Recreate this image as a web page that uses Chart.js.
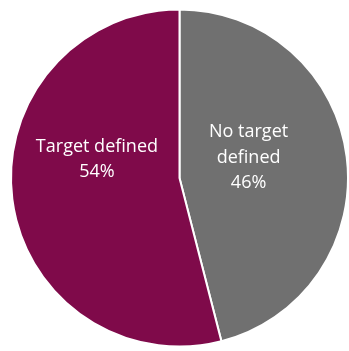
<!DOCTYPE html>
<html>
<head>
<meta charset="utf-8">
<script src="https://cdn.jsdelivr.net/npm/chart.js@4/dist/chart.umd.min.js"></script>
<style>
  html, body { margin: 0; padding: 0; background: #ffffff; }
  #wrap { width: 349px; height: 351px; }
</style>
</head>
<body>
<div id="wrap"><canvas id="c"></canvas></div>
<script>
// Share of entries with and without a defined target
const categories = ["No target defined", "Target defined"];
const shares = [46, 54];
const labelLines = [["No target", "defined"], ["Target defined"]];
const sliceColors = ["#707070", "#7F0A4A"];

// Label anchors as fractions of the radius, relative to the pie centre
const labelAnchors = [[0.41, -0.12], [-0.49, -0.11]];

const sliceLabels = {
  id: "sliceLabels",
  afterDatasetsDraw(chart) {
    const ctx = chart.ctx;
    const meta = chart.getDatasetMeta(0);
    ctx.save();
    ctx.fillStyle = "#ffffff";
    ctx.font = "18px 'Open Sans', sans-serif";
    ctx.textAlign = "center";
    ctx.textBaseline = "middle";
    const lh = 25.5;
    meta.data.forEach((arc, i) => {
      const r = arc.outerRadius;
      const cx = arc.x + labelAnchors[i][0] * r;
      const cy = arc.y + labelAnchors[i][1] * r;
      const lines = labelLines[i].concat([shares[i] + "%"]);
      const top = cy - (lines.length - 1) * lh / 2;
      lines.forEach((t, k) => ctx.fillText(t, cx, top + k * lh));
    });
    ctx.restore();
  }
};

new Chart(document.getElementById("c"), {
  type: "pie",
  data: {
    labels: categories,
    datasets: [{
      data: shares,
      backgroundColor: sliceColors,
      borderColor: "#ffffff",
      borderWidth: 2
    }]
  },
  options: {
    responsive: true,
    maintainAspectRatio: false,
    animation: false,
    layout: { padding: { left: 10, right: 0, top: 8, bottom: 3 } },
    plugins: {
      legend: { display: false },
      tooltip: { enabled: false }
    }
  },
  plugins: [sliceLabels]
});
</script>
</body>
</html>
